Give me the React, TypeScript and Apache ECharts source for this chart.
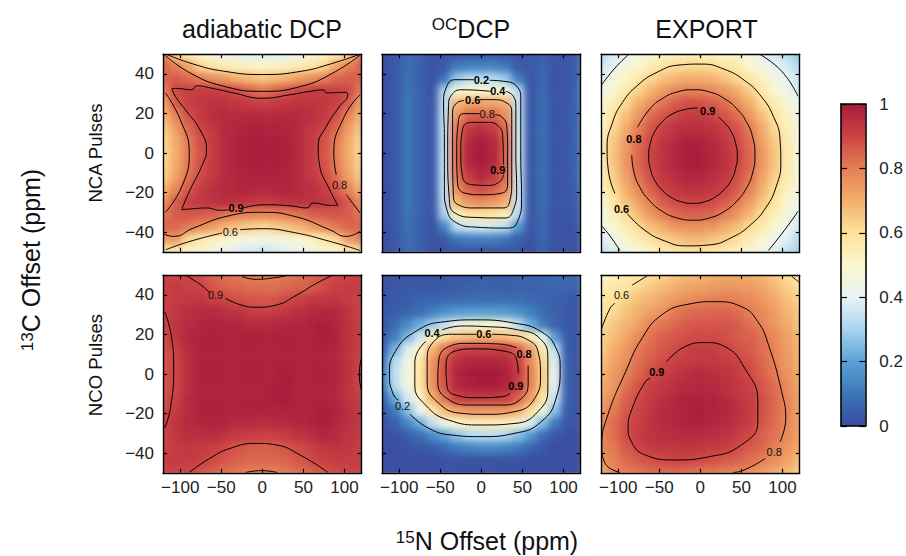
import React, { useEffect, useRef } from "react";
import * as echarts from "echarts";

const FONT = "Liberation Sans";
const xStops = [-120, -105, -90, -75, -60, -45, -30, -15, 0, 15, 30, 45, 60, 75, 90, 105, 120];
const yStops = [50, 43.75, 37.5, 31.25, 25, 18.75, 12.5, 6.25, 0, -6.25, -12.5, -18.75, -25, -31.25, -37.5, -43.75, -50];
const xTicks = [-100, -50, 0, 50, 100];
const yTicks = [-40, -20, 0, 20, 40];
const titles = ["adiabatic DCP", "OCDCP", "EXPORT"];
const palette = ["#3a4b9e", "#3b76b8", "#5ba2d6", "#a8d3f0", "#e8f4f5", "#fbf6cc", "#fde29a", "#f3ae6c", "#e57f55", "#cc4344", "#a61a3b"];

const adiabaticNCA = [
  [78,63,55,50,46,43,41,39,38,39,41,43,46,50,55,63,78],
  [84,80,72,62,58,55,53,52,51,52,53,55,58,62,72,80,84],
  [84,86,84,80,77,74,70,68,66,68,70,74,77,80,84,86,84],
  [80,89,91,92,92,91,89,85,82,85,88,90,92,92,91,89,80],
  [72,86,91,93,94,94,93,92,91,92,93,94,94,93,91,86,72],
  [68,79,88,92,95,96,96,96,96,96,96,96,95,92,88,79,68],
  [64,74,84,90,93,96,97,98,98,98,97,96,93,90,84,74,64],
  [62,71,81,88,92,96,98,99,99,99,98,96,92,88,81,71,62],
  [61,70,80,87,92,96,98,99,99,99,98,96,92,87,80,70,61],
  [62,71,81,88,92,96,98,99,99,99,98,96,92,88,81,71,62],
  [64,73,83,89,93,96,97,98,98,98,97,96,93,89,83,73,64],
  [69,79,87,92,95,96,97,97,96,97,97,96,95,92,87,79,69],
  [76,86,91,93,94,95,94,93,92,93,94,95,94,93,91,86,76],
  [81,86,87,86,85,82,80,79,78,79,80,82,85,86,87,86,81],
  [84,84,81,77,73,69,66,64,62,64,66,69,73,77,81,84,84],
  [74,74,62,57,53,50,47,45,44,45,47,50,53,57,62,74,78],
  [56,54,50,47,44,41,39,37,36,37,39,41,44,47,50,54,58],
];
const ocdcpNCA = [
  [1,3,7,5,2,2,3,3,3,3,3,2,3,5,2,2,5],
  [1,3,8,5,2,3,11,13,13,13,11,3,3,6,2,3,6],
  [1,3,9,5,2,10,28,33,33,33,28,12,3,7,2,3,6],
  [1,3,9,5,2,31,47,50,50,50,47,32,3,7,2,3,7],
  [1,3,10,5,3,33,68,72,73,72,70,35,3,8,2,3,7],
  [1,3,10,5,3,34,75,84,85,84,77,35,3,8,2,3,7],
  [1,3,10,5,3,34,81,92,95,92,83,36,3,8,2,3,7],
  [1,3,10,5,3,34,83,96,99,96,85,36,3,8,2,3,7],
  [1,3,10,5,3,34,83,97,100,97,85,36,3,8,2,3,7],
  [1,3,10,5,3,34,83,96,99,96,85,36,3,8,2,3,7],
  [1,3,10,5,3,34,81,92,96,92,83,36,3,8,2,3,7],
  [1,3,10,5,3,34,76,85,88,85,78,35,3,8,2,3,6],
  [1,3,10,5,3,33,68,75,77,75,70,35,3,8,2,3,5],
  [1,3,9,5,2,30,52,58,60,58,54,32,3,7,2,2,4],
  [1,3,9,5,2,13,33,36,37,36,33,17,3,7,2,2,3],
  [1,3,8,5,2,3,10,12,12,12,10,5,2,6,2,2,2],
  [1,3,7,5,1,1,2,2,2,2,2,2,1,5,1,1,2],
];
const exportNCA = [
  [32,37,40,45,48,50,52,53,53,52,50,48,45,40,37,33,28],
  [36,41,46,50,55,59,61,62,62,61,59,56,50,46,41,37,32],
  [40,46,51,57,62,66,69,70,70,69,66,62,58,52,46,40,35],
  [44,50,57,63,69,74,78,80,80,78,75,70,64,57,50,44,38],
  [47,55,62,70,76,82,86,88,88,86,83,77,70,62,55,48,41],
  [50,60,67,75,83,87,90,92,92,90,87,83,75,67,60,52,44],
  [53,62,71,80,87,91,94,95,95,94,91,87,81,71,62,54,46],
  [55,65,74,83,89,93,96,98,98,96,93,89,83,73,65,56,47],
  [56,66,75,84,90,94,97,99,99,97,94,90,84,75,66,57,48],
  [55,66,75,84,90,94,97,99,99,97,94,90,84,75,66,57,48],
  [55,64,73,82,88,93,95,97,97,95,93,88,82,73,64,55,47],
  [52,61,70,78,85,90,93,94,94,93,90,86,79,70,61,53,45],
  [49,58,66,73,80,86,89,90,90,89,86,81,74,66,59,50,43],
  [46,54,61,68,75,80,84,85,85,84,80,75,68,61,54,47,40],
  [43,49,56,61,67,71,75,76,76,75,71,67,61,56,49,43,37],
  [38,44,49,55,60,63,66,68,68,66,64,60,55,49,44,39,33],
  [34,38,43,47,52,55,58,60,60,58,55,52,47,43,39,34,30],
];
const adiabaticNCO = [
  [90,90,90,88,85,83,81,80,79,80,81,83,85,87,89,90,91],
  [91,92,91,90,87,85,84,83,83,83,84,85,86,89,91,92,91],
  [90,92,93,93,91,90,88,87,86,87,89,91,93,93,93,92,90],
  [90,93,95,96,96,95,94,92,91,92,93,95,96,97,97,94,90],
  [90,94,96,97,98,97,97,96,96,96,97,97,98,99,97,94,91],
  [89,93,97,98,98,98,98,98,98,98,98,98,98,99,98,94,91],
  [88,91,96,98,98,98,98,98,98,98,98,98,98,98,97,94,91],
  [87,90,95,98,98,98,98,98,98,98,98,98,98,98,97,94,90],
  [87,90,95,98,98,98,98,98,98,98,99,98,98,98,97,94,90],
  [87,90,95,98,98,98,98,98,98,99,99,98,98,98,97,94,90],
  [88,91,96,98,98,98,98,98,98,99,99,98,98,98,97,94,91],
  [89,92,96,98,98,98,98,98,98,98,98,98,98,99,98,95,92],
  [90,94,96,97,98,97,96,96,95,96,96,97,98,99,97,95,92],
  [90,93,95,95,95,94,92,91,91,91,92,94,95,97,96,94,92],
  [90,92,93,92,91,89,87,86,85,86,87,89,91,93,94,93,91],
  [92,92,92,91,89,87,85,84,84,84,85,87,89,91,92,92,91],
  [90,90,90,88,85,83,81,80,80,80,81,83,85,87,89,90,90],
];
const ocdcpNCO = [
  [2,2,2,2,2,2,3,3,4,4,4,5,5,6,7,7,7],
  [2,3,3,3,3,3,4,5,5,5,5,5,5,6,6,6,5],
  [2,3,4,6,6,7,7,8,8,8,8,8,7,6,5,4,2],
  [3,4,6,8,12,16,18,19,19,19,18,16,12,8,5,3,2],
  [3,8,14,22,28,34,41,46,48,48,46,33,22,11,5,3,2],
  [4,12,24,36,52,61,65,67,68,68,67,63,54,40,18,4,2],
  [5,24,38,50,68,81,90,91,91,91,91,85,74,56,33,4,2],
  [10,32,43,56,75,87,95,97,97,97,96,91,78,62,38,5,2],
  [13,34,45,58,76,88,97,99,100,100,98,92,80,64,40,5,2],
  [11,33,44,56,75,87,96,98,99,99,97,91,79,63,39,5,2],
  [5,22,37,51,69,82,91,92,92,92,91,85,74,58,35,5,2],
  [3,11,25,40,56,67,72,75,75,75,74,70,60,46,26,4,2],
  [2,5,13,22,34,44,50,53,54,54,53,49,38,25,11,3,2],
  [1,2,4,8,14,20,27,31,33,33,31,26,18,8,3,1,1],
  [1,1,2,3,4,7,11,13,14,14,13,11,6,3,1,1,1],
  [1,1,1,1,1,2,2,2,2,2,2,2,1,1,1,1,1],
  [1,1,1,1,1,1,1,1,1,1,1,1,1,1,1,1,1],
];
const exportNCO = [
  [50,53,56,58,61,63,66,68,69,70,71,71,70,68,65,61,58],
  [54,57,58,62,65,67,70,72,73,74,75,75,74,72,68,64,60],
  [57,60,63,67,69,72,75,77,79,80,80,80,78,75,71,67,63],
  [59,62,66,70,73,76,81,83,84,84,84,83,80,78,74,69,65],
  [61,65,69,73,79,82,84,86,87,87,87,86,83,79,75,71,66],
  [63,67,72,78,82,85,87,88,89,89,88,86,85,82,78,73,68],
  [65,70,75,81,84,87,89,91,92,92,90,88,86,83,79,74,69],
  [67,72,77,83,86,89,91,92,93,93,92,91,88,84,80,75,70],
  [69,74,80,84,89,91,93,95,96,95,94,92,89,85,81,76,71],
  [71,75,82,88,91,93,95,96,97,96,95,93,91,87,83,78,72],
  [73,78,85,89,92,95,97,98,98,98,96,94,92,88,84,79,73],
  [76,81,87,90,93,96,97,98,99,98,97,95,92,88,84,80,73],
  [78,83,88,91,94,96,97,98,98,97,96,94,92,87,83,79,73],
  [79,83,89,92,94,95,96,96,96,95,94,92,89,85,82,78,73],
  [78,81,86,90,92,93,93,93,93,92,91,89,86,84,80,76,71],
  [76,80,84,86,88,89,90,90,89,88,86,85,83,80,77,73,68],
  [72,78,80,82,83,84,84,83,82,81,80,79,77,74,71,68,64],
];

type Pt = [number, number];
const linesAdiabaticNCA: Pt[][] = [
  [[-117,50],[-84,45],[-47,41.4],[0,39.7],[48,41.4],[84,45.2],[119,50]],
  [[-120,50],[-88,40.5],[-47,33.8],[0,31.2],[48,33.8],[86,40.5],[119,49.5]],
  [[-110,32.6],[-106,32.7],[-86,32],[-80,34],[-64,33],[-35,30.4],[0,27.7],[34,29.5],[58,31.2],[74,31.9],[78,30.4],[102,30.7],[104,29.5],[94,23.6],[78,13.5],[68,3.4],[70,-6.8],[80,-16.9],[92,-26.5],[84,-26.5],[62,-25.3],[54,-27.8],[34,-26.7],[1,-26.2],[-23,-27.8]],
  [[-40,-28.7],[-51,-29],[-68,-27.8],[-84,-28.2],[-98,-28.7],[-96,-26.2],[-86,-16.9],[-74,-6.8],[-68,1.7],[-76,11.8],[-92,21],[-106,28.7],[-110,32.6]],
  [[-118,30.4],[-100,16.9],[-89,0],[-98,-16.9],[-118,-30]],
  [[119,29.5],[100,18.6],[87,0],[90,-11]],
  [[102,-21],[119,-30.4]],
  [[-120,-41],[-108,-42.2],[-84,-38],[-43,-32],[0,-30],[42,-32.4],[82,-38.8],[102,-42.2],[119,-39.7]],
  [[-118,-49],[-88,-44.7],[-49,-40.5]],
  [[-27,-38.8],[0,-38.3],[38,-40.2],[82,-44.7],[119,-49.3]],
];
const linesOcdcpNCA: Pt[][] = [
  [[-9,37.1],[-32,37.1],[-43,32.9],[-46,25.3],[-45,6.8],[-45,-18.6],[-42,-28.7],[-30,-35.4],[-8,-37.5],[33,-38],[45,-33.8],[49,-23.6],[48,0],[48,27],[43,33.8],[27,36.3],[10,36.8]],
  [[12,31.2],[-24,32],[-36,29.5],[-40,23.6],[-41,0],[-39,-23.6],[-32,-30.4],[-8,-32.6],[29,-32.9],[39,-28.7],[43,-18.6],[42,0],[42,23.6],[39,28.7],[30,31.2]],
  [[-21,26.5],[-30,25.3],[-35,20.3],[-35,0],[-34,-21.9],[-28,-26.2],[-8,-27.8],[27,-27.8],[35,-23.6],[37,-15.2],[37,0],[37,20.3],[31,25.3],[13,27],[-2,27]],
  [[-2,19.9],[-22,19.9],[-28,16],[-30,0],[-29,-15.2],[-20,-20.3],[0,-21.1],[25,-20.3],[32,-15.2],[32,0],[31,13.5],[25,18.2],[17,19.4]],
  [[27,-5.9],[26,8.4],[21,13.5],[8,15.5],[-12,15.5],[-23,11.8],[-25,0],[-23,-11.8],[-12,-16],[8,-16.4],[23,-14.3],[27,-11]],
];
const linesExportNCA: Pt[][] = [
  [[-89,-30.7],[-68.6,-38.8],[-44,-44.4],[-17,-47],[11,-46.5],[37.5,-42.9],[61,-36.4],[80,-27.5],[92.5,-16.8],[98,-5],[97,7],[89,18.5],[74,28.7],[53.5,36.8],[29,42.4],[1.8,45],[-26,44.5],[-52.5,40.9],[-76,34.4],[-95,25.5],[-107.5,14.8],[-113.6,3],[-112,-9],[-104,-20.5]],
  [[-120,34.6],[-104,43],[-87,50]],
  [[72,50],[99,41.4],[119,28.7]],
  [[-120,-37],[-110,-42],[-98,-49.3]],
  [[83,-49.3],[103,-38.8],[119,-29.5]],
  [[-76.5,13],[-61.5,22.3],[-46,27.6],[-28,30.9],[-8.5,32],[11,30.9],[29,27.6],[44.5,22.3],[56.5,15.5],[64,7.5],[66.5,-1],[64,-9.5],[56.5,-17.5],[44.5,-24.3],[29,-29.6],[11,-32.9],[-8.5,-34],[-28,-32.9],[-46,-29.6],[-61.5,-24.3],[-73.5,-17.5],[-81,-9.5],[-83.5,-1]],
  [[-3,22.8],[-18,22.1],[-36,19.3],[-47,15.5],[-56,10.5],[-61,4.7],[-63,-1.5],[-61,-7.7],[-56,-13.5],[-47,-18.5],[-36,-22.3],[-23,-24.7],[-9,-25.5],[5,-24.7],[18,-22.3],[29,-18.5],[38,-13.5],[43,-7.7],[45,-1.5],[43,4.7],[38,10.5],[29,15.5],[22,18.2]],
];
const linesAdiabaticNCO: Pt[][] = [
  [[-92,49.6],[-72,44.2],[-64,40.8]],
  [[-45,38.3],[-23,34.6],[-7,33.8],[17,34.9],[42,40],[66,45.9],[84,49.6]],
  [[-25,49.3],[-7,47.9],[9,48.4],[28,49.6]],
  [[-119,31.6],[-111,19.7],[-108,2.9],[-112,-17.4],[-119,-27.5]],
  [[120.6,7.9],[118,0],[120.6,-8.1]],
  [[-89,-49.8],[-64,-42.7],[-39,-37.6],[-7,-35.1],[17,-35.9],[46,-41],[80,-49.8]],
  [[-20,-49.8],[-1,-48.9],[18,-49.8]],
];
const linesOcdcpNCO: Pt[][] = [
  [[-87,-20.3],[-64,-27.5],[-36,-30.9],[0,-31.7],[41,-30],[73,-24.1],[91,-12.3],[96,2.9],[91,13],[73,21.4],[41,25.7],[-8,27.4],[-44,26.5],[-77,22.3],[-105,11.3],[-112,-0.5],[-107,-10.6],[-101,-13.2]],
  [[-68,16.4],[-81,6.2],[-81,-5.6],[-68,-15.7],[-40,-23.3],[0,-25.8],[41,-25],[69,-19],[81,-7.3],[81,7.9],[71,18.1],[45,22.3],[4,24],[-24,24.3],[-48,22.3]],
  [[-6,20.1],[-36,20.1],[-58,16.4],[-66,6.2],[-66,-3.9],[-54,-14],[-24,-19.9],[4,-20.4],[41,-19],[65,-12.3],[72,-0.5],[69,11.3],[57,17.2],[33,19.7],[13,20.1]],
  [[43,13.3],[21,15.2],[-16,15.5],[-40,13.8],[-52,6.2],[-53,-3.9],[-42,-12.3],[-12,-15.7],[25,-15.7],[49,-12.3],[57,-3.9],[57,4.2]],
  [[45,0.3],[43,7.1],[31,11.3],[-8,12.7],[-32,11.6],[-43,4.6],[-42,-5.6],[-32,-10.6],[-4,-12],[25,-11.5],[35,-9.8]],
];
const linesExportNCO: Pt[][] = [
  [[-120,23.1],[-110,33.2],[-104,35.8]],
  [[-83,45],[-65,49.6]],
  [[111,49.6],[120,46.4]],
  [[40,-49.8],[50,-49.1],[79,-42.7]],
  [[97,-34.3],[104,-22.4],[99,-8.9],[83,14.7],[70,26.5],[50,34.1],[18,36.6],[-15,35.3],[-47,29.9],[-71,18.1],[-91,1.2],[-114,-22.4],[-120,-36],[-116,-45.2],[-98,-49.8]],
  [[-41,6.2],[-19,13.8],[6,15.9],[30,13.8],[54,2.9],[70,-14],[70,-24.1],[50,-35.9],[10,-41.9],[-31,-43.5],[-67,-41],[-85,-33.4],[-88,-27.5],[-83,-17.4],[-67,-3.9],[-61,-2.2]],
];

type Lab = [number, number, string, boolean];
const labelsAdiabaticNCA: Lab[] = [[-32,-27.8,"0.9",true],[-39,-40,"0.6",false],[94,-16.2,"0.8",false]];
const labelsOcdcpNCA: Lab[] = [[0,37.1,"0.2",true],[20,31.5,"0.4",true],[-10.5,26.8,"0.6",true],[7,19.7,"0.8",false],[20,-8.4,"0.9",true]];
const labelsExportNCA: Lab[] = [[-96,-28.4,"0.6",true],[-81,7,"0.8",true],[9,21.4,"0.9",true]];
const labelsAdiabaticNCO: Lab[] = [[-57,40,"0.9",false]];
const labelsOcdcpNCO: Lab[] = [[-96,-16.4,"0.2",false],[-60,21,"0.4",true],[3,20,"0.6",true],[52,10,"0.8",true],[42,-5.9,"0.9",true]];
const labelsExportNCO: Lab[] = [[-96,40,"0.6",false],[90,-39.7,"0.8",false],[-53,1,"0.9",true]];

const grids = [adiabaticNCA, ocdcpNCA, exportNCA, adiabaticNCO, ocdcpNCO, exportNCO];
const contourSets = [linesAdiabaticNCA, linesOcdcpNCA, linesExportNCA, linesAdiabaticNCO, linesOcdcpNCO, linesExportNCO];
const labelSets = [labelsAdiabaticNCA, labelsOcdcpNCA, labelsExportNCA, labelsAdiabaticNCO, labelsOcdcpNCO, labelsExportNCO];

const PW = 198.7, PH = 197.6;
const lefts = [163, 382, 601], tops = [54.2, 275.2];
const panels = [0, 1, 2, 3, 4, 5].map((i) => ({ left: lefts[i % 3], top: tops[i < 3 ? 0 : 1], col: i % 3, row: i < 3 ? 0 : 1 }));
const minus = (v: number) => String(v).replace("-", "\u2212");
const clipD = panels.map((p) => `M${p.left} ${p.top}H${p.left + PW}V${p.top + PH}H${p.left}Z`).join(" ");

function heatOption() {
  const bw = (15 * PW) / 242, bh = (6.25 * PH) / 100;
  const cats = Array.from({ length: 19 }, (_, i) => String(i));
  const grid: any[] = [], xAxis: any[] = [], yAxis: any[] = [], series: any[] = [];
  panels.forEach((p, i) => {
    const cx = p.left + PW / 2, cy = p.top + PH / 2;
    grid.push({ left: cx - 9.5 * bw, top: cy - 9.5 * bh, width: 19 * bw, height: 19 * bh });
    xAxis.push({ type: "category", gridIndex: i, data: cats, show: false });
    yAxis.push({ type: "category", gridIndex: i, data: cats, show: false, inverse: true });
    const data: number[][] = [];
    for (let r = 0; r < 19; r++)
      for (let c = 0; c < 19; c++) {
        const rr = Math.min(16, Math.max(0, r - 1)), cc = Math.min(16, Math.max(0, c - 1));
        data.push([c, r, grids[i][rr][cc]]);
      }
    series.push({ type: "heatmap", xAxisIndex: i, yAxisIndex: i, data, progressive: 0 });
  });
  return {
    animation: false,
    grid, xAxis, yAxis, series,
    visualMap: { show: false, type: "continuous", min: 0, max: 100, inRange: { color: palette }, seriesIndex: series.map((_, i) => i) },
  };
}

function mainOption() {
  const grid: any[] = [], xAxis: any[] = [], yAxis: any[] = [], series: any[] = [];
  const line = { show: true, onZero: false, lineStyle: { color: "#000", width: 1.4 } };
  const tick = { show: true, inside: true, length: 4, lineStyle: { color: "#000", width: 1.2 } };
  const lab = { fontFamily: FONT, fontSize: 17, color: "#222" };
  panels.forEach((p, i) => {
    grid.push({ left: p.left, top: p.top, width: PW, height: PH });
    const xBase = { type: "value", gridIndex: i, min: -121, max: 121, splitLine: { show: false }, axisLine: line };
    const yBase = { type: "value", gridIndex: i, min: -50, max: 50, splitLine: { show: false }, axisLine: line };
    const xi = xAxis.length, yi = yAxis.length;
    xAxis.push({ ...xBase, position: "bottom", axisTick: { ...tick, customValues: xTicks },
      axisLabel: { show: p.row === 1, ...lab, margin: 6, customValues: xTicks, formatter: (v: number) => minus(v) } });
    xAxis.push({ ...xBase, position: "top", axisTick: { ...tick, customValues: xTicks }, axisLabel: { show: false, customValues: xTicks } });
    yAxis.push({ ...yBase, position: "left", axisTick: { ...tick, customValues: yTicks },
      axisLabel: { show: p.col === 0, ...lab, margin: 9, customValues: yTicks, formatter: (v: number) => minus(v) } });
    yAxis.push({ ...yBase, position: "right", axisTick: { ...tick, customValues: yTicks }, axisLabel: { show: false, customValues: yTicks } });
    contourSets[i].forEach((d) =>
      series.push({ type: "line", xAxisIndex: xi, yAxisIndex: yi, data: d, smooth: 0.5, showSymbol: false, symbol: "none",
        lineStyle: { color: "#000", width: 1 }, silent: true }));
    series.push({ type: "scatter", xAxisIndex: xi, yAxisIndex: yi, symbolSize: 1, itemStyle: { color: "transparent" }, silent: true,
      data: labelSets[i].map((l) => ({
        value: [l[0], l[1]],
        label: { show: true, position: "inside", formatter: l[2], fontFamily: FONT, fontSize: 11, color: l[3] ? "#000" : "#111", fontWeight: l[3] ? "bold" : "normal", opacity: 1 },
      })) });
  });
  // colour bar
  const g = grid.length;
  grid.push({ left: 841, top: 104, width: 26, height: 322, show: true, borderWidth: 0,
    backgroundColor: { type: "linear", x: 0, y: 1, x2: 0, y2: 0, colorStops: palette.map((c, k) => ({ offset: k / 10, color: c })) } });
  const barLine = { show: true, onZero: false, lineStyle: { color: "#000", width: 1.6 } };
  const barTick = { show: true, inside: true, length: 6, lineStyle: { color: "#000", width: 1.2 } };
  ["bottom", "top"].forEach((position) => xAxis.push({ type: "value", gridIndex: g, min: 0, max: 1, position, axisLine: barLine, axisTick: { show: false }, axisLabel: { show: false }, splitLine: { show: false } }));
  yAxis.push({ type: "value", gridIndex: g, min: 0, max: 1, interval: 0.2, position: "left", axisLine: barLine, axisTick: barTick, axisLabel: { show: false }, splitLine: { show: false } });
  yAxis.push({ type: "value", gridIndex: g, min: 0, max: 1, interval: 0.2, position: "right", axisLine: barLine, axisTick: barTick, splitLine: { show: false },
    axisLabel: { show: true, ...lab, margin: 14 } });

  const big = { n: { fontFamily: FONT, fontSize: 25, color: "#111" }, s: { fontFamily: FONT, fontSize: 17, color: "#111", verticalAlign: "top" } };
  const txt = (x: number, y: number, text: string, extra: any = {}, size = 25) => ({
    type: "text", x, y, rotation: extra.rotation || 0,
    style: { text, rich: big, fontFamily: FONT, fontSize: size, fill: "#111", textAlign: "center", textVerticalAlign: "middle" }, silent: true });
  const graphic = [
    txt(262, 29, titles[0]),
    txt(471, 28.5, "{s|OC}{n|DCP}"),
    txt(706.5, 29, titles[2]),
    txt(95, 153, "NCA Pulses", { rotation: Math.PI / 2 }, 18.6),
    txt(95, 365, "NCO Pulses", { rotation: Math.PI / 2 }, 18.6),
    txt(31, 260, "{s|13}{n|C Offset (ppm)}", { rotation: Math.PI / 2 }),
    txt(487, 541, "{s|15}{n|N Offset (ppm)}"),
  ];
  return { animation: false, grid, xAxis, yAxis, series, graphic };
}

export default function App() {
  const heatRef = useRef<HTMLDivElement>(null);
  const mainRef = useRef<HTMLDivElement>(null);
  useEffect(() => {
    const a = echarts.init(heatRef.current!, undefined, { renderer: "svg" });
    const b = echarts.init(mainRef.current!, undefined, { renderer: "svg" });
    a.setOption(heatOption() as any);
    b.setOption(mainOption() as any);
    return () => { a.dispose(); b.dispose(); };
  }, []);
  const box: React.CSSProperties = { position: "absolute", left: 0, top: 0, width: 906, height: 556 };
  return (
    <div style={{ ...box, background: "#fff", overflow: "hidden" }}>
      <div style={{ ...box, clipPath: `path("${clipD}")` }}>
        <div ref={heatRef} style={{ ...box, filter: "blur(3.5px)" }} />
      </div>
      <div ref={mainRef} style={box} />
    </div>
  );
}
